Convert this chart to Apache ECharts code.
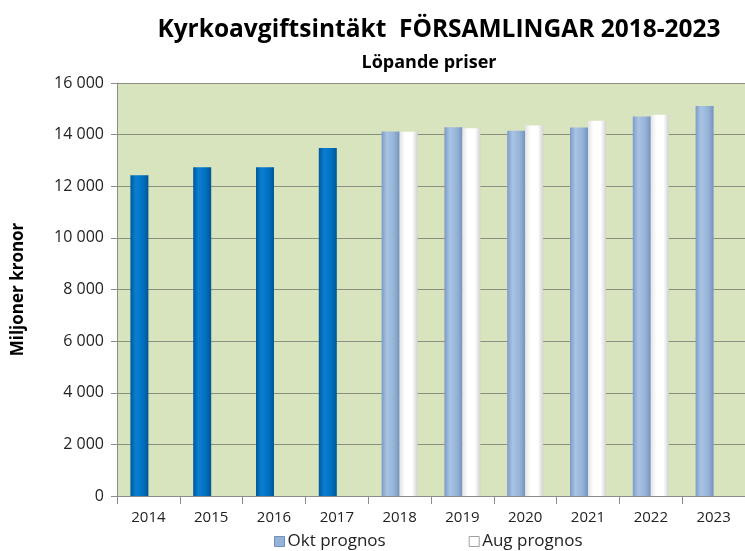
<!DOCTYPE html>
<html>
<head>
<meta charset="utf-8">
<script src="https://cdn.jsdelivr.net/npm/echarts@6/dist/echarts.min.js"></script>
<style>
  html, body { margin: 0; padding: 0; background: #fff; }
  #chart { width: 745px; height: 551px; }
</style>
</head>
<body>
<div id="chart"></div>
<script>
// data
var years = ["2014", "2015", "2016", "2017", "2018", "2019", "2020", "2021", "2022", "2023"];
var oktPrognos = [12430, 12740, 12740, 13480, 14120, 14290, 14150, 14280, 14700, 15110];
var augPrognos = [null, null, null, null, 14110, 14250, 14350, 14540, 14770, null];
var historyYears = 4; // 2014-2017 are outcome, dark blue
var yTicks = [0, 2000, 4000, 6000, 8000, 10000, 12000, 14000, 16000];

function grad(c0, c1, c2, c3) {
  return new echarts.graphic.LinearGradient(0, 0, 1, 0, [
    { offset: 0, color: c0 },
    { offset: 0.3, color: c1 },
    { offset: 0.7, color: c2 },
    { offset: 1, color: c3 }
  ]);
}

var darkBlue = grad("#00589a", "#0a7fd2", "#0070c0", "#005694");
var lightBlue = grad("#7d9bc6", "#a9c3e3", "#95b3d7", "#7592c0");
var whiteBar = grad("#e4e4e4", "#ffffff", "#ffffff", "#d2d2d2");

var oktData = oktPrognos.map(function (v, i) {
  if (i < historyYears) {
    return { value: v, itemStyle: { color: darkBlue } };
  }
  return v;
});

var myChart = echarts.init(document.getElementById("chart"));
var fontFam = "Open Sans";

function fmt(v) {
  return String(v).replace(/\B(?=(\d{3})+(?!\d))/g, " ");
}

var option = {
  animation: false,
  title: [
    {
      text: "Kyrkoavgiftsintäkt  FÖRSAMLINGAR 2018-2023",
      left: 434,
      textAlign: "center",
      top: 13,
      textStyle: { fontFamily: fontFam, fontSize: 24.5, fontWeight: "bold", color: "#000" }
    },
    {
      text: "Löpande priser",
      left: 424,
      textAlign: "center",
      top: 49,
      textStyle: { fontFamily: fontFam, fontSize: 18, fontWeight: "bold", color: "#000" }
    }
  ],
  legend: {
    top: 528,
    left: 269,
    itemGap: 83,
    itemWidth: 10,
    itemHeight: 10,
    icon: "rect",
    textStyle: { fontFamily: fontFam, fontSize: 17, color: "#222", padding: [0, 0, 0, -2] },
    data: [
      { name: "Okt prognos", itemStyle: { color: "#95b3d7", borderColor: "#6f8fbf", borderWidth: 1 } },
      { name: "Aug prognos", itemStyle: { color: "#ffffff", borderColor: "#a0a0a0", borderWidth: 1 } }
    ]
  },
  grid: {
    left: 117,
    top: 83,
    width: 633,
    bottom: 55,
    show: true,
    backgroundColor: "#d7e4bd",
    borderWidth: 0
  },
  xAxis: {
    type: "category",
    data: years,
    axisLine: { lineStyle: { color: "#8c8c8c", width: 1 } },
    axisTick: { show: true, length: 8, lineStyle: { color: "#8c8c8c" } },
    axisLabel: { fontFamily: fontFam, fontSize: 15, color: "#222", margin: 14 }
  },
  yAxis: {
    type: "value",
    min: 0,
    max: 16000,
    interval: 2000,
    name: "Miljoner kronor",
    nameLocation: "middle",
    nameGap: 90,
    nameTextStyle: { fontFamily: fontFam, fontSize: 17, fontWeight: "bold", color: "#000" },
    axisLine: { show: true, lineStyle: { color: "#8c8c8c" } },
    axisTick: { show: true, length: 6, lineStyle: { color: "#8c8c8c" } },
    splitLine: { lineStyle: { color: "#8a8f80", width: 1 } },
    axisLabel: {
      fontFamily: fontFam,
      fontSize: 16,
      color: "#222",
      margin: 13,
      formatter: function (v) { return yTicks.indexOf(v) >= 0 ? fmt(v) : ""; }
    }
  },
  series: [
    {
      name: "Okt prognos",
      type: "bar",
      barWidth: 18,
      barGap: "0%",
      itemStyle: { color: lightBlue },
      data: oktData
    },
    {
      name: "Aug prognos",
      type: "bar",
      barWidth: 18,
      itemStyle: { color: whiteBar },
      data: augPrognos
    }
  ]
};

option && myChart.setOption(option);
</script>
</body>
</html>
